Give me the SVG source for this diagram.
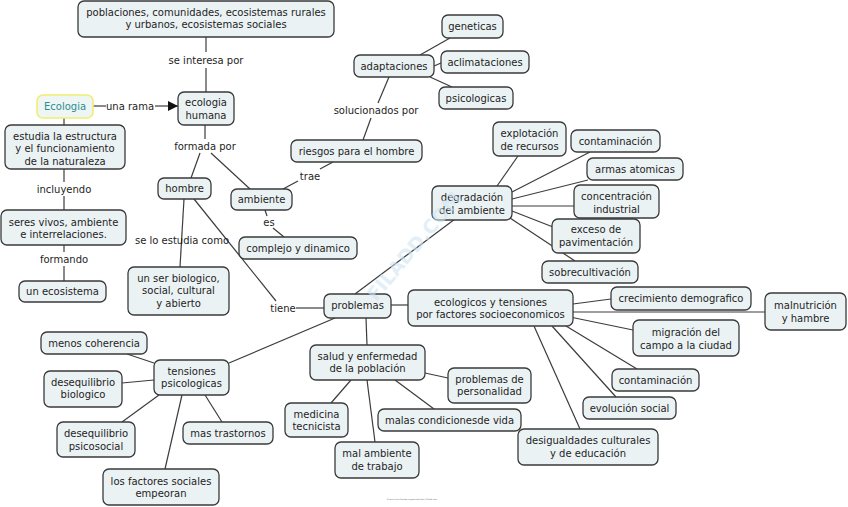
<svg xmlns="http://www.w3.org/2000/svg" width="848" height="507" viewBox="0 0 848 507">
<style>
.n rect{fill:#ebf2f4;stroke:#3a3a3a;stroke-width:1.3}
text{font-family:"DejaVu Sans",Verdana,sans-serif;font-size:10px;fill:#1e1e1e;text-anchor:middle}
.c line{stroke:#3c3c3c;stroke-width:1.2}
.wm{font-size:19px;fill:#cfe5f4;fill-opacity:0.6;font-weight:bold;text-anchor:start}
</style>
<defs>
<marker id="arr" markerWidth="10" markerHeight="10" refX="10" refY="5" orient="auto" markerUnits="userSpaceOnUse"><path d="M0,0 L10,5 L0,10 z" fill="#111"/></marker>
</defs>
<rect width="848" height="507" fill="#fff"/>
<g class="c">
<line x1="206" y1="37" x2="206" y2="52"/><line x1="206" y1="68" x2="206" y2="92"/>
<line x1="93" y1="106" x2="106" y2="106"/><line x1="155" y1="106" x2="178" y2="106" marker-end="url(#arr)"/>
<line x1="64" y1="118" x2="64" y2="125"/>
<line x1="64" y1="169" x2="64" y2="182"/><line x1="64" y1="196" x2="64" y2="210"/>
<line x1="64" y1="245" x2="64" y2="252"/><line x1="64" y1="266" x2="64" y2="281"/>
<line x1="205" y1="125" x2="205" y2="139"/><line x1="200" y1="153" x2="191" y2="178"/><line x1="211" y1="153" x2="250" y2="189"/>
<line x1="184" y1="199" x2="180" y2="267"/>
<line x1="194" y1="199" x2="276" y2="301"/>
<line x1="296" y1="308" x2="324" y2="308"/>
<line x1="265" y1="210" x2="267" y2="216"/><line x1="273" y1="228" x2="284" y2="237"/>
<line x1="283" y1="189" x2="298" y2="181"/><line x1="320" y1="169" x2="333" y2="162"/>
<line x1="389" y1="77" x2="378" y2="103"/><line x1="371" y1="118" x2="363" y2="140"/>
<line x1="420" y1="55" x2="450" y2="38"/><line x1="434" y1="66" x2="441" y2="63"/><line x1="430" y1="77" x2="452" y2="87"/>
<line x1="355" y1="294" x2="455" y2="219"/>
<line x1="497" y1="186" x2="518" y2="156"/><line x1="512" y1="192" x2="590" y2="152"/><line x1="512" y1="199" x2="588" y2="180"/>
<line x1="512" y1="206" x2="574" y2="206"/><line x1="512" y1="211" x2="553" y2="227"/><line x1="510" y1="218" x2="575" y2="261"/>
<line x1="391" y1="305" x2="408" y2="305"/>
<line x1="573" y1="304" x2="611" y2="299"/><line x1="573" y1="312" x2="765" y2="312"/><line x1="570" y1="317" x2="633" y2="330"/>
<line x1="566" y1="326" x2="637" y2="369"/><line x1="552" y1="326" x2="616" y2="397"/><line x1="534" y1="326" x2="580" y2="429"/>
<line x1="335" y1="318" x2="229" y2="363"/><line x1="366" y1="318" x2="367" y2="345"/>
<line x1="127" y1="354" x2="154" y2="363"/><line x1="154" y1="380" x2="122" y2="383"/><line x1="159" y1="395" x2="122" y2="422"/>
<line x1="205" y1="395" x2="222" y2="422"/><line x1="182" y1="395" x2="165" y2="469"/>
<line x1="351" y1="380" x2="331" y2="403"/><line x1="367" y1="380" x2="375" y2="442"/><line x1="395" y1="380" x2="434" y2="409"/><line x1="425" y1="373" x2="448" y2="378"/>
</g>
<g id="labels">
<text x="206" y="64">se interesa por</text>
<text x="130" y="110">una rama</text>
<text x="64" y="193">incluyendo</text>
<text x="64" y="263">formando</text>
<text x="205" y="150">formada por</text>
<text x="182" y="244">se lo estudia como</text>
<text x="269" y="226">es</text>
<text x="310" y="180">trae</text>
<text x="376" y="114">solucionados por</text>
<text x="283" y="312">tiene</text>
</g>
<g id="n-poblaciones" class="n"><rect x="78" y="1" width="256" height="36" rx="6"/><text x="206" y="16">poblaciones, comunidades, ecosistemas rurales</text><text x="206" y="28">y urbanos, ecosistemas sociales</text></g>
<g id="n-ecologia-humana" class="n"><rect x="178" y="92" width="56" height="33" rx="6"/><text x="206" y="106">ecologia</text><text x="206" y="119">humana</text></g>
<g id="n-ecologia"><rect x="37" y="95" width="56" height="23" rx="6" fill="#eef5f5" stroke="#f0ee70" stroke-width="1.6"/><text x="65" y="110" style="fill:#2b8d92">Ecologia</text></g>
<g id="n-estudia" class="n"><rect x="5" y="125" width="120" height="44" rx="6"/><text x="65" y="140">estudia la estructura</text><text x="65" y="152">y el funcionamiento</text><text x="65" y="165">de la naturaleza</text></g>
<g id="n-seres" class="n"><rect x="1" y="210" width="125" height="35" rx="6"/><text x="63.5" y="226">seres vivos, ambiente</text><text x="63.5" y="238">e interrelaciones.</text></g>
<g id="n-ecosistema" class="n"><rect x="19" y="281" width="87" height="21" rx="6"/><text x="62.5" y="295">un ecosistema</text></g>
<g id="n-hombre" class="n"><rect x="158" y="178" width="53" height="21" rx="6"/><text x="184.5" y="192">hombre</text></g>
<g id="n-ambiente" class="n"><rect x="231" y="189" width="61" height="21" rx="6"/><text x="261.5" y="203">ambiente</text></g>
<g id="n-complejo" class="n"><rect x="239" y="237" width="118" height="22" rx="6"/><text x="298" y="252">complejo y dinamico</text></g>
<g id="n-unser" class="n"><rect x="128" y="267" width="101" height="48" rx="6"/><text x="178.5" y="282">un ser biologico,</text><text x="178.5" y="294">social, cultural</text><text x="178.5" y="307">y abierto</text></g>
<g id="n-riesgos" class="n"><rect x="291" y="140" width="131" height="22" rx="6"/><text x="356.5" y="155">riesgos para el hombre</text></g>
<g id="n-adaptaciones" class="n"><rect x="354" y="55" width="80" height="22" rx="6"/><text x="394" y="70">adaptaciones</text></g>
<g id="n-geneticas" class="n"><rect x="442" y="15" width="61" height="23" rx="6"/><text x="472.5" y="30">geneticas</text></g>
<g id="n-aclimataciones" class="n"><rect x="441" y="51" width="88" height="22" rx="6"/><text x="485" y="66">aclimataciones</text></g>
<g id="n-psicologicas" class="n"><rect x="439" y="87" width="74" height="22" rx="6"/><text x="476" y="102">psicologicas</text></g>
<g id="n-problemas" class="n"><rect x="324" y="294" width="67" height="24" rx="6"/><text x="357.5" y="309">problemas</text></g>
<g id="n-degradacion" class="n"><rect x="432" y="186" width="80" height="34" rx="6"/><text x="472" y="201">degradación</text><text x="472" y="214">del ambiente</text></g>
<g id="n-explotacion" class="n"><rect x="493" y="122" width="73" height="34" rx="6"/><text x="529.5" y="137">explotación</text><text x="529.5" y="150">de recursos</text></g>
<g id="n-contaminacion1" class="n"><rect x="571" y="130" width="89" height="22" rx="6"/><text x="615.5" y="145">contaminación</text></g>
<g id="n-armas" class="n"><rect x="587" y="158" width="96" height="22" rx="6"/><text x="635" y="173">armas atomicas</text></g>
<g id="n-concentracion" class="n"><rect x="574" y="185" width="85" height="33" rx="6"/><text x="616.5" y="200">concentración</text><text x="616.5" y="213">industrial</text></g>
<g id="n-exceso" class="n"><rect x="552" y="219" width="88" height="34" rx="6"/><text x="596" y="233">exceso de</text><text x="596" y="246">pavimentación</text></g>
<g id="n-sobrecultivacion" class="n"><rect x="542" y="261" width="96" height="22" rx="6"/><text x="590" y="276">sobrecultivación</text></g>
<g id="n-ecologicos" class="n"><rect x="408" y="290" width="165" height="36" rx="6"/><text x="490.5" y="306">ecologicos y tensiones</text><text x="490.5" y="318">por factores socioeconomicos</text></g>
<g id="n-crecimiento" class="n"><rect x="611" y="287" width="140" height="23" rx="6"/><text x="681" y="302">crecimiento demografico</text></g>
<g id="n-malnutricion" class="n"><rect x="765" y="293" width="81" height="37" rx="6"/><text x="805.5" y="309">malnutrición</text><text x="805.5" y="322">y hambre</text></g>
<g id="n-migracion" class="n"><rect x="633" y="320" width="106" height="36" rx="6"/><text x="686" y="336">migración del</text><text x="686" y="349">campo a la ciudad</text></g>
<g id="n-contaminacion2" class="n"><rect x="612" y="369" width="87" height="22" rx="6"/><text x="655.5" y="384">contaminación</text></g>
<g id="n-evolucion" class="n"><rect x="583" y="397" width="93" height="22" rx="6"/><text x="629.5" y="412">evolución social</text></g>
<g id="n-desigualdades" class="n"><rect x="518" y="429" width="140" height="36" rx="6"/><text x="588" y="444">desigualdades culturales</text><text x="588" y="457">y de educación</text></g>
<g id="n-tensiones" class="n"><rect x="154" y="360" width="75" height="35" rx="6"/><text x="191.5" y="375">tensiones</text><text x="191.5" y="387">psicologicas</text></g>
<g id="n-menos" class="n"><rect x="41" y="332" width="106" height="22" rx="6"/><text x="94" y="347">menos coherencia</text></g>
<g id="n-deseqbio" class="n"><rect x="44" y="371" width="78" height="36" rx="6"/><text x="83" y="386">desequilibrio</text><text x="83" y="398">biologico</text></g>
<g id="n-deseqpsico" class="n"><rect x="57" y="422" width="78" height="35" rx="6"/><text x="96" y="437">desequilibrio</text><text x="96" y="450">psicosocial</text></g>
<g id="n-trastornos" class="n"><rect x="183" y="422" width="90" height="22" rx="6"/><text x="228" y="437">mas trastornos</text></g>
<g id="n-factores" class="n"><rect x="103" y="469" width="116" height="36" rx="6"/><text x="161" y="485">los factores sociales</text><text x="161" y="497">empeoran</text></g>
<g id="n-salud" class="n"><rect x="310" y="345" width="115" height="35" rx="6"/><text x="367.5" y="360">salud y enfermedad</text><text x="367.5" y="372">de la población</text></g>
<g id="n-personalidad" class="n"><rect x="448" y="368" width="83" height="35" rx="6"/><text x="489.5" y="383">problemas de</text><text x="489.5" y="395">personalidad</text></g>
<g id="n-medicina" class="n"><rect x="285" y="403" width="63" height="34" rx="6"/><text x="316.5" y="418">medicina</text><text x="316.5" y="430">tecnicista</text></g>
<g id="n-malas" class="n"><rect x="378" y="409" width="143" height="22" rx="6"/><text x="449.5" y="424">malas condicionesde vida</text></g>
<g id="n-malambiente" class="n"><rect x="335" y="442" width="84" height="36" rx="6"/><text x="377" y="457">mal ambiente</text><text x="377" y="470">de trabajo</text></g>
<text class="wm" x="0" y="0" transform="translate(376,302) rotate(-50)">FILADD.COM</text>
<text x="412" y="500" style="font-size:2px;fill:#666">Este archivo fue descargado de https://filadd.com</text>
</svg>
